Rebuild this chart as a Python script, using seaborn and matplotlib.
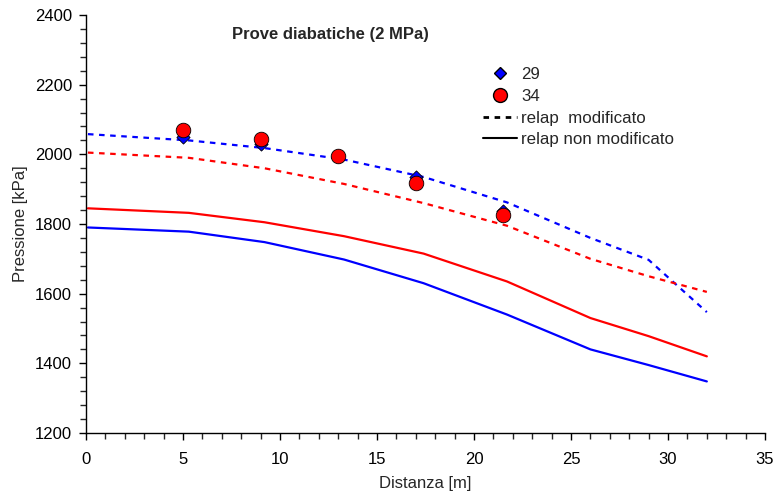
import numpy as np
import pandas as pd
import matplotlib
matplotlib.use("Agg")
import matplotlib.pyplot as plt
from matplotlib.lines import Line2D
from matplotlib.ticker import MultipleLocator
import seaborn as sns

# Dati sperimentali
x_exp = [5, 9, 13, 17, 21.5]
p29 = [2050, 2030, 1995, 1935, 1838]
p34 = [2070, 2045, 1995, 1918, 1825]

# Calcoli RELAP
x_calc = [0.1, 5.3, 9.2, 13.3, 17.4, 21.7, 26.0, 29.0, 32.0]
mod_29 = [2058, 2040, 2018, 1985, 1935, 1862, 1760, 1697, 1547]
mod_34 = [2005, 1990, 1960, 1915, 1860, 1795, 1700, 1650, 1605]
nonmod_29 = [1790, 1778, 1748, 1698, 1630, 1540, 1440, 1395, 1348]
nonmod_34 = [1845, 1832, 1805, 1765, 1715, 1635, 1530, 1478, 1420]

sns.set_style("ticks")
plt.rcParams['font.family'] = ['Liberation Sans', 'DejaVu Sans']

fig = plt.figure(figsize=(7.77, 4.97), dpi=100)
ax = fig.add_axes([0.1107, 0.1288, 0.8739, 0.841])

dash = (0, (2.5, 2.5))
sns.lineplot(x=x_calc, y=mod_29, color="blue", lw=1.6, ax=ax, linestyle=dash)
sns.lineplot(x=x_calc, y=mod_34, color="red", lw=1.6, ax=ax, linestyle=dash)
sns.lineplot(x=x_calc, y=nonmod_29, color="blue", lw=1.6, ax=ax)
sns.lineplot(x=x_calc, y=nonmod_34, color="red", lw=1.6, ax=ax)

sns.scatterplot(x=x_exp, y=p29, marker="D", s=45, color="blue", edgecolor="black",
                linewidth=0.6, ax=ax, zorder=4)
sns.scatterplot(x=x_exp, y=p34, marker="o", s=110, color="red", edgecolor="black",
                linewidth=0.6, ax=ax, zorder=5)

ax.set_xlim(0, 35)
ax.set_ylim(1200, 2400)
ax.xaxis.set_major_locator(MultipleLocator(5))
ax.xaxis.set_minor_locator(MultipleLocator(1))
ax.yaxis.set_major_locator(MultipleLocator(200))
ax.yaxis.set_minor_locator(MultipleLocator(40))
ax.tick_params(which="major", length=5, width=1, labelsize=12, colors="black")
ax.tick_params(which="minor", length=4, width=1)
ax.tick_params(axis="x", which="major", pad=9)
ax.tick_params(axis="y", which="major", pad=5)
for s in ["left", "bottom"]:
    ax.spines[s].set_linewidth(1)
    ax.spines[s].set_color("black")
sns.despine(ax=ax)

ax.set_xlabel("Distanza [m]", fontsize=12, labelpad=6)
ax.set_ylabel("Pressione [kPa]", fontsize=12, labelpad=5)
ax.text(12.6, 2345, "Prove diabatiche (2 MPa)", fontsize=12, fontweight="bold",
        ha="center", va="center")

handles = [
    Line2D([], [], marker="D", color="blue", markeredgecolor="black", markersize=6.5, lw=0),
    Line2D([], [], marker="o", color="red", markeredgecolor="black", markersize=10, lw=0),
    Line2D([], [], color="black", lw=2, linestyle=(0, (2, 2))),
    Line2D([], [], color="black", lw=1.5),
]
labels = ["29", "34", "relap  modificato", "relap non modificato"]
ax.legend(handles, labels, loc="upper left", bbox_to_anchor=(0.572, 0.896),
          frameon=False, fontsize=12.2, handlelength=2.0, handletextpad=0.25,
          labelspacing=0.4, borderpad=0)

fig.savefig("out.png", dpi=100)
